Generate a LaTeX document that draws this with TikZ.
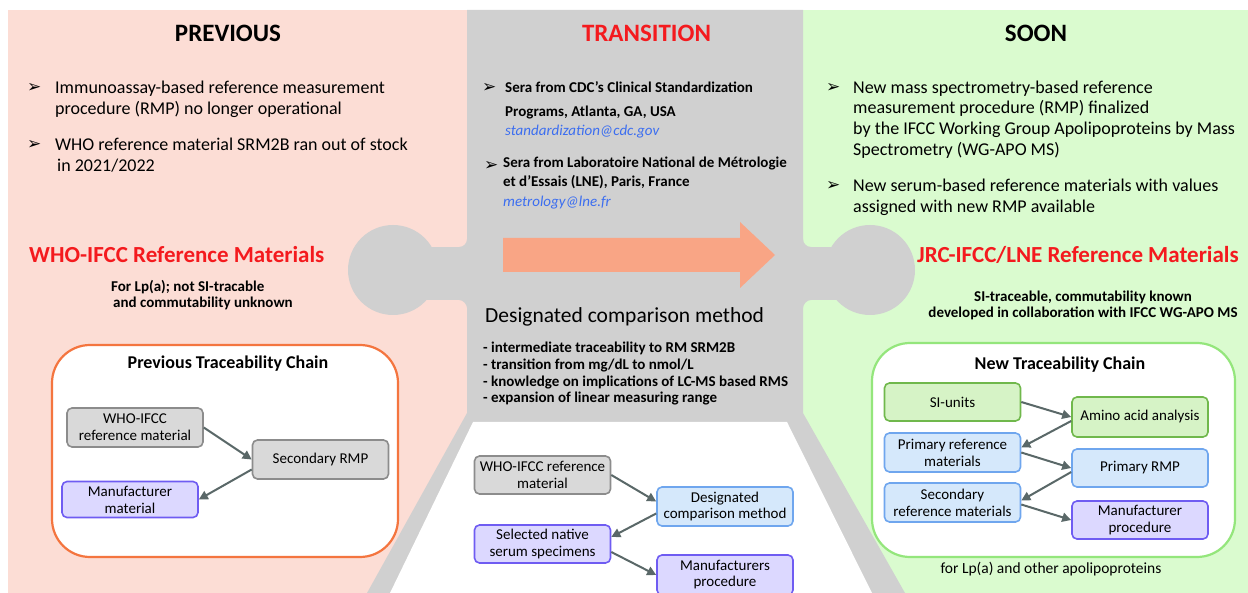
\documentclass[tikz,border=0pt]{standalone}
\usepackage{fontspec}
\setmainfont{Carlito}
\newfontfamily\dejavu{DejaVu Sans}
\usetikzlibrary{arrows.meta,calc}
\definecolor{pinkbg}{HTML}{FCDDD5}
\definecolor{graybg}{HTML}{D0D0D0}
\definecolor{greenbg}{HTML}{DAFBCF}
\definecolor{arrowor}{HTML}{F9A585}
\definecolor{redt}{HTML}{F41A1E}
\definecolor{emailb}{HTML}{3C6EF0}
\definecolor{gfill}{HTML}{D9D9D9}
\definecolor{gdraw}{HTML}{8C8C8C}
\definecolor{pfill}{HTML}{DCD8FF}
\definecolor{pdraw}{HTML}{6F5CF2}
\definecolor{bfill}{HTML}{D5E8FB}
\definecolor{bdraw}{HTML}{6FA6EE}
\definecolor{grfill}{HTML}{D6F3C6}
\definecolor{grdraw}{HTML}{70B84C}
\definecolor{oborder}{HTML}{F4753F}
\definecolor{gborder}{HTML}{94E67C}
\definecolor{connc}{HTML}{5A6868}
\begin{document}
\begin{tikzpicture}[x=1pt,y=-1pt,
  lbl/.style={inner sep=0pt, anchor=base west},
  ctr/.style={inner sep=0pt, anchor=base},
  bultxt/.style={lbl, font=\fontsize{18}{21}\selectfont},
  ctrbul/.style={lbl, font=\bfseries\fontsize{15}{18}\selectfont},
  mail/.style={lbl, font=\itshape\fontsize{15}{18}\selectfont, text=emailb},
  bulmark/.style={lbl, font=\dejavu\fontsize{17}{17}\selectfont},
  panelhead/.style={ctr, font=\bfseries\fontsize{25}{25}\selectfont},
  redhead/.style={lbl, font=\bfseries\fontsize{23}{23}\selectfont, text=redt},
  subnote/.style={font=\bfseries\fontsize{15}{16}\selectfont},
  dashline/.style={lbl, font=\bfseries\fontsize{15}{16}\selectfont},
  chaintitle/.style={ctr, font=\bfseries\fontsize{18}{18}\selectfont},
  chainbox/.style={draw, line width=1.6pt, rounded corners=5pt, align=center, inner sep=0pt, minimum width=136pt, font=\fontsize{15}{17}\selectfont},
  graybox/.style={chainbox, fill=gfill, draw=gdraw},
  purplebox/.style={chainbox, fill=pfill, draw=pdraw},
  bluebox/.style={chainbox, fill=bfill, draw=bdraw},
  greenbox/.style={chainbox, fill=grfill, draw=grdraw},
  link/.style={draw=connc, line width=2pt, -{Triangle[length=9pt,width=9pt]}},
]
\useasboundingbox (0,0) rectangle (1248,593);
\clip (0,0) rectangle (1248,593);
\fill[white] (0,0) rectangle (1248,593);
% panels
\fill[pinkbg] (8,10) rectangle (470,593);
\fill[greenbg] (800,10) rectangle (1248,593);
\fill[graybg] (467,10) -- (803,10) -- (803,413) -- (905,593) -- (367,593) -- (467,413) -- cycle;
\fill[white] (473,422) -- (787,422) -- (872,593) -- (390,593) -- cycle;
% side lobes
\fill[graybg] (400,247) rectangle (470,300);
\fill[graybg] (393,270) circle (45pt);
\fill[graybg] (467,239) -- (467,247) -- (459,247) .. controls (463.4,247) and (467,243.4) .. (467,239) -- cycle;
\fill[graybg] (467,308) -- (467,300) -- (459,300) .. controls (463.4,300) and (467,304.6) .. (467,308) -- cycle;
\fill[graybg] (800,247) rectangle (870,300);
\fill[graybg] (870,270) circle (45pt);
\fill[graybg] (803,239) -- (803,247) -- (811,247) .. controls (806.6,247) and (803,243.4) .. (803,239) -- cycle;
\fill[graybg] (803,308) -- (803,300) -- (811,300) .. controls (806.6,300) and (803,304.6) .. (803,308) -- cycle;
% big arrow
\fill[arrowor] (503,238) -- (740,238) -- (740,222) -- (775,255) -- (740,288) -- (740,272) -- (503,272) -- cycle;

% headings
\node[panelhead] (hprev) at (228,41.7) {PREVIOUS};
\node[panelhead, text=redt] (htrans) at (646.5,41.7) {TRANSITION};
\node[panelhead] (hsoon) at (1036,41.7) {SOON};

% left bullets
\node[bulmark] (lb1) at (27,93) {➢};
\node[bultxt] (lt1a) at (55,94) {Immunoassay-based reference measurement};
\node[bultxt] (lt1b) at (55,115) {procedure (RMP) no longer operational};
\node[bulmark] (lb2) at (27,150) {➢};
\node[bultxt] (lt2a) at (55,151) {WHO reference material SRM2B ran out of stock};
\node[bultxt] (lt2b) at (57,172) {in 2021/2022};

% center bullets
\node[bulmark] (cb1) at (482,93) {➢};
\node[ctrbul] (ct1a) at (505,93) {Sera from CDC’s Clinical Standardization};
\node[ctrbul] (ct1b) at (505,117) {Programs, Atlanta, GA, USA};
\node[mail] (ct1c) at (505,136) {standardization@cdc.gov};
\node[bulmark] (cb2) at (484,171) {➢};
\node[ctrbul] (ct2a) at (503,168) {Sera from Laboratoire National de Métrologie};
\node[ctrbul] (ct2b) at (503,187) {et d’Essais (LNE), Paris, France};
\node[mail] (ct2c) at (503,207) {metrology@lne.fr};

% right bullets
\node[bulmark] (rb1) at (826,93) {➢};
\node[bultxt] (rt1a) at (853,94) {New mass spectrometry-based reference};
\node[bultxt] (rt1b) at (853,114) {measurement procedure (RMP) finalized};
\node[bultxt] (rt1c) at (853,135) {by the IFCC Working Group Apolipoproteins by Mass};
\node[bultxt] (rt1d) at (853,156) {Spectrometry (WG-APO MS)};
\node[bulmark] (rb2) at (826,191) {➢};
\node[bultxt] (rt2a) at (853,192) {New serum-based reference materials with values};
\node[bultxt] (rt2b) at (853,213) {assigned with new RMP available};

% red headings and notes
\node[redhead] (lred) at (29,263) {WHO-IFCC Reference Materials};
\node[subnote, lbl] (ln1) at (111,292) {For Lp(a); not SI-tracable};
\node[subnote, lbl] (ln2) at (113,308) {and commutability unknown};
\node[redhead] (rred) at (917,263) {JRC-IFCC/LNE Reference Materials};
\node[subnote, ctr] (rn1) at (1083,302) {SI-traceable, commutability known};
\node[subnote, ctr] (rn2) at (1083,318) {developed in collaboration with IFCC WG-APO MS};

% center method text
\node[lbl, font=\fontsize{21.5}{22}\selectfont] (cdm) at (485,323) {Designated comparison method};
\node[dashline] (cd1) at (483,353) {- intermediate traceability to RM SRM2B};
\node[dashline] (cd2) at (483,370) {- transition from mg/dL to nmol/L};
\node[dashline] (cd3) at (483,387) {- knowledge on implications of LC-MS based RMS};
\node[dashline] (cd4) at (483,403) {- expansion of linear measuring range};

% left chain
\draw[oborder, line width=2.2pt, fill=white, rounded corners=38pt] (52,345) rectangle (398,557);
\node[chaintitle] (ltitle) at (228,369) {Previous Traceability Chain};
\node[graybox, minimum height=39pt] (lwho) at (135,427.5) {WHO-IFCC\\reference material};
\node[graybox, minimum height=39pt] (lsec) at (320.5,459.5) {Secondary RMP};
\node[purplebox, minimum height=36pt] (lman) at (130,499.5) {Manufacturer\\material};
\draw[link] (lwho.east) -- (lsec.west);
\draw[link] ($(lsec.west)+(0,10)$) -- (lman.east);

% center chain
\node[graybox, minimum height=38pt] (cwho) at (542.5,475) {WHO-IFCC reference\\material};
\node[bluebox, minimum height=39pt] (cdcm) at (725,506.5) {Designated\\comparison method};
\node[purplebox, minimum height=38pt] (csel) at (542.5,544) {Selected native\\serum specimens};
\node[purplebox, minimum height=40pt, font=\fontsize{15}{16}\selectfont] (cman) at (725,575) {Manufacturers\\procedure};
\draw[link] (cwho.east) -- ($(cdcm.west)+(0,-5)$);
\draw[link] ($(cdcm.west)+(0,7)$) -- ($(csel.east)+(0,-7)$);
\draw[link] ($(csel.east)+(0,8)$) -- ($(cman.west)+(0,0)$);

% right chain
\draw[gborder, line width=2.2pt, fill=white, rounded corners=38pt] (872,343) rectangle (1235,557);
\node[chaintitle] (rtitle) at (1060,370) {New Traceability Chain};
\node[greenbox, minimum height=38pt] (rsi) at (952.5,402) {SI-units};
\node[greenbox, minimum height=40pt] (raa) at (1140,417) {Amino acid analysis};
\node[bluebox, minimum height=39pt] (rprm) at (952.5,452.5) {Primary reference\\materials};
\node[bluebox, minimum height=38pt] (rrmp) at (1140,468) {Primary RMP};
\node[bluebox, minimum height=39pt] (rsrm) at (952.5,502.5) {Secondary\\reference materials};
\node[purplebox, minimum height=38pt] (rmp) at (1140,520) {Manufacturer\\procedure};
\draw[link] (rsi.east) -- (raa.west);
\draw[link] ($(raa.west)+(0,4)$) -- ($(rprm.east)+(0,-5)$);
\draw[link] (rprm.east) -- (rrmp.west);
\draw[link] ($(rrmp.west)+(0,4)$) -- ($(rsrm.east)+(0,-2)$);
\draw[link] ($(rsrm.east)+(0,2)$) -- (rmp.west);
\node[ctr, font=\fontsize{15.5}{16}\selectfont] (rfoot) at (1051,573) {for Lp(a) and other apolipoproteins};
\end{tikzpicture}
\end{document}
